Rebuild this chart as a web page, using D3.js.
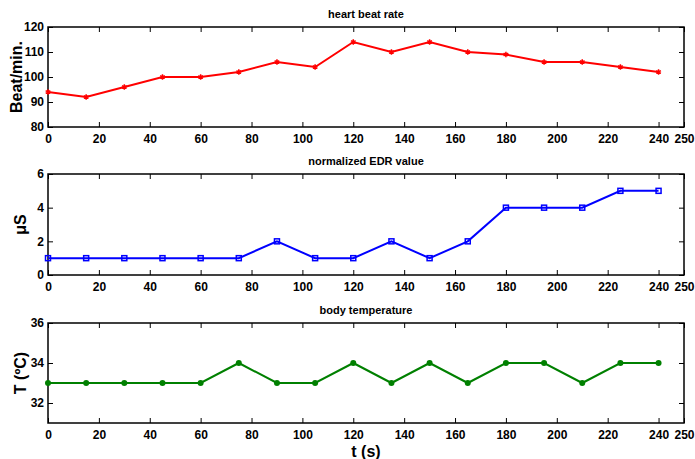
<!DOCTYPE html>
<html><head><meta charset="utf-8">
<script src="https://cdn.jsdelivr.net/npm/d3@7"></script>
<style>
body{margin:0;background:#fff;}
text{font-family:"Liberation Sans",Arial,sans-serif;font-weight:bold;}
</style></head>
<body>
<svg id="c" width="695" height="459"></svg>
<script>
const times = [0,15,30,45,60,75,90,105,120,135,150,165,180,195,210,225,240];
const heartRate = [94,92,96,100,100,102,106,104,114,110,114,110,109,106,106,104,102];
const edrValue = [1,1,1,1,1,1,2,1,1,2,1,2,4,4,4,5,5];
const bodyTemp = [33,33,33,33,33,34,33,33,34,33,34,33,34,34,33,34,34];
const xTicks = [0,20,40,60,80,100,120,140,160,180,200,220,240,250];
const heartTicks = [80,90,100,110,120];
const edrTicks = [0,2,4,6];
const tempTicks = [32,34,36];

const svg = d3.select("#c");
const x = d3.scaleLinear().domain([0,250]).range([48,684]);

const panels = [
  {title:"heart beat rate", ylabel:"Beat/min.", data:heartRate, dom:[80,120], ticks:heartTicks, top:27, bot:127, color:"#ff0000", marker:"star"},
  {title:"normalized EDR value", ylabel:"\u03bcS", data:edrValue, dom:[0,6], ticks:edrTicks, top:174, bot:275, color:"#0000ff", marker:"square"},
  {title:"body temperature", ylabel:"T (\u00baC)", data:bodyTemp, dom:[31,36], ticks:tempTicks, top:323, bot:423, color:"#008000", marker:"circle"}
];

panels.forEach(p => {
  const y = d3.scaleLinear().domain(p.dom).range([p.bot,p.top]);
  const g = svg.append("g");
  const fmt = d3.format("d");
  const xa = g.append("g").attr("transform",`translate(0,${p.bot})`)
    .call(d3.axisBottom(x).tickValues(xTicks).tickSize(-5).tickPadding(7).tickFormat(fmt));
  const ya = g.append("g").attr("transform",`translate(48,0)`)
    .call(d3.axisLeft(y).tickValues(p.ticks).tickSize(-5).tickPadding(4).tickFormat(fmt));
  const xt = g.append("g").attr("transform",`translate(0,${p.top})`)
    .call(d3.axisTop(x).tickValues(xTicks).tickSize(-5).tickFormat(""));
  const yr = g.append("g").attr("transform",`translate(684,0)`)
    .call(d3.axisRight(y).tickValues(p.ticks).tickSize(-5).tickFormat(""));
  [xa,ya,xt,yr].forEach(a=>{
    a.select(".domain").remove();
    a.selectAll("line").attr("stroke","#000").attr("stroke-width",1);
    a.selectAll("text").attr("fill","#000").style("font-size","12px").style("font-weight","bold").style("font-family","'Liberation Sans',Arial,sans-serif");
  });
  g.append("rect").attr("x",48).attr("y",p.top).attr("width",684-48).attr("height",p.bot-p.top)
    .attr("fill","none").attr("stroke","#000").attr("stroke-width",1.5);
  g.append("text").attr("x",366).attr("y",p.top-9).attr("text-anchor","middle")
    .style("font-size","11px").text(p.title);
  g.append("text").attr("transform",`translate(${p.marker==="star"?22:26},${(p.top+p.bot)/2}) rotate(-90)`)
    .attr("text-anchor","middle").style("font-size","16px").text(p.ylabel);
  const line = d3.line().x((d,i)=>x(times[i])).y(d=>y(d));
  g.append("path").datum(p.data).attr("d",line).attr("fill","none").attr("stroke",p.color).attr("stroke-width",2);
  const pts = g.selectAll(".m").data(p.data).enter();
  if(p.marker==="square"){
    pts.append("rect").attr("x",(d,i)=>x(times[i])-2.5).attr("y",d=>y(d)-2.5).attr("width",5).attr("height",5)
      .attr("fill","none").attr("stroke",p.color).attr("stroke-width",1.5);
  } else if(p.marker==="circle"){
    pts.append("circle").attr("cx",(d,i)=>x(times[i])).attr("cy",d=>y(d)).attr("r",3).attr("fill",p.color);
  } else {
    pts.append("path").attr("transform",(d,i)=>`translate(${x(times[i])},${y(d)})`)
      .attr("d",d3.symbol(d3.symbolAsterisk,20)).attr("stroke",p.color).attr("stroke-width",1.5).attr("fill","none");
  }
});
svg.append("text").attr("x",366).attr("y",457).attr("text-anchor","middle").style("font-size","16px").text("t (s)");
</script>
</body></html>
